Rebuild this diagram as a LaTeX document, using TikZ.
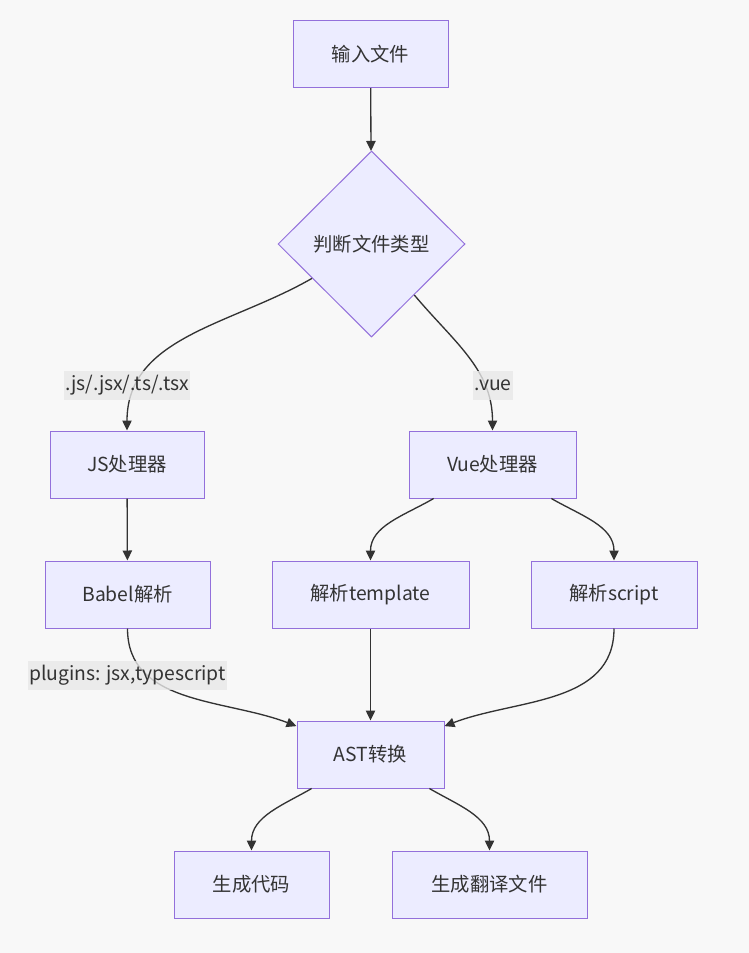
\documentclass[tikz,border=0pt]{standalone}
\usepackage{fontspec}
\setmainfont{Noto Sans CJK SC}
\usepackage{tikz}
\usetikzlibrary{shapes.geometric,arrows.meta,positioning}
\definecolor{mmdbg}{RGB}{248,248,248}
\definecolor{mmdfill}{RGB}{236,236,255}
\definecolor{mmdline}{RGB}{147,112,219}
\definecolor{mmdedge}{RGB}{51,51,51}
\definecolor{mmdlabel}{RGB}{232,232,232}

\begin{document}
\begin{tikzpicture}[
    x=0.75pt, y=-0.75pt,
    >={Triangle[length=7.5pt,width=7pt]},
    box/.style={rectangle, draw=mmdline, fill=mmdfill, line width=0.75pt,
                minimum width=#1, minimum height=50.25pt, inner sep=0pt,
                font=\fontsize{14.5pt}{17pt}\selectfont, text=mmdedge},
    decision/.style={diamond, aspect=1, draw=mmdline, fill=mmdfill, line width=0.75pt,
                minimum width=140.25pt, minimum height=139.5pt, inner sep=0pt,
                font=\fontsize{14.5pt}{17pt}\selectfont, text=mmdedge},
    arrow/.style={->, draw=mmdedge, line width=1pt},
    edgelabel/.style={fill=mmdlabel, fill opacity=0.8, text opacity=1,
                inner xsep=1pt, inner ysep=0pt, minimum height=21.75pt,
                font=\fontsize{14.5pt}{17pt}\selectfont, text=mmdedge}
]
% Background
\fill[mmdbg] (0,0) rectangle (749,953);

% Nodes
\node[box=116.25pt] (input) at (370.5,54) {输入文件};
\node[decision] (judge) at (371.5,244) {判断文件类型};
\node[box=115.5pt] (js) at (127,464.5) {JS处理器};
\node[box=125.25pt] (vue) at (492.5,464.5) {Vue处理器};
\node[box=123.75pt] (babel) at (127.5,594.5) {Babel解析};
\node[box=147.75pt] (tmpl) at (370.5,594.5) {解析template};
\node[box=124.5pt] (script) at (614,594.5) {解析script};
\node[box=110.25pt] (ast) at (370.5,754.5) {AST转换};
\node[box=116.25pt] (code) at (251.5,884.5) {生成代码};
\node[box=146.25pt] (trans) at (489.5,884.5) {生成翻译文件};

% Edges
\draw[arrow] (input) -- (judge);
\draw[arrow] (judge) to[out=-150, in=90] (js);
\draw[arrow] (judge) to[out=-50, in=90] (vue);
\draw[arrow] (js) -- (babel);
\draw[arrow] (vue) to[out=-150, in=90] (tmpl);
\draw[arrow] (vue) to[out=-30, in=90] (script);
\draw[arrow] (babel) to[out=-90, in=159] (ast);
\draw[arrow] (tmpl) -- (ast);
\draw[arrow] (script) to[out=-90, in=21] (ast);
\draw[arrow] (ast) to[out=-150, in=90] (code);
\draw[arrow] (ast) to[out=-30, in=90] (trans);

% Labels
\node[edgelabel] (lbljs) at (127,385) {.js/.jsx/.ts/.tsx};
\node[edgelabel] (lblvue) at (493,385) {.vue};
\node[edgelabel] (lblbabel) at (127.5,675) {plugins: jsx,typescript};
\end{tikzpicture}
\end{document}
